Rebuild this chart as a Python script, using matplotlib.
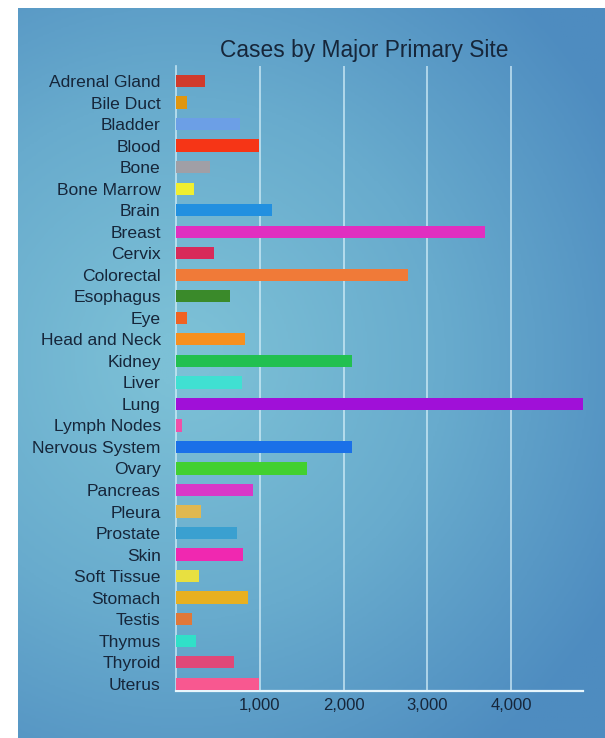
import numpy as np
import matplotlib
matplotlib.use("Agg")
import matplotlib.pyplot as plt
from matplotlib.colors import LinearSegmentedColormap

sites = ["Adrenal Gland", "Bile Duct", "Bladder", "Blood", "Bone", "Bone Marrow",
         "Brain", "Breast", "Cervix", "Colorectal", "Esophagus", "Eye",
         "Head and Neck", "Kidney", "Liver", "Lung", "Lymph Nodes",
         "Nervous System", "Ovary", "Pancreas", "Pleura", "Prostate", "Skin",
         "Soft Tissue", "Stomach", "Testis", "Thymus", "Thyroid", "Uterus"]
cases = [350, 130, 765, 995, 405, 220, 1145, 3685, 455, 2765, 650, 128,
         820, 2100, 785, 4857, 70, 2105, 1560, 920, 295, 730, 800,
         278, 860, 188, 240, 695, 995]
colors = ["#d03a2c", "#e0960f", "#6c9fe6", "#f63516", "#a09fa6", "#f0ef30",
          "#2290e0", "#e02fc0", "#d82a5a", "#f07a38", "#3a8a2a", "#f06222",
          "#f7901e", "#22c050", "#40e0d2", "#a010d8", "#f050a8",
          "#1a70e8", "#42d030", "#d838c8", "#e0b850", "#3aa0d0", "#f028b0",
          "#e8e040", "#e8b020", "#e07838", "#30e0c8", "#e04878", "#f85890"]
ticks = [1000, 2000, 3000, 4000]

W, H = 605, 738
fig = plt.figure(figsize=(W / 100, H / 100), dpi=100)
fig.patch.set_facecolor("white")

# gradient panel behind the chart
bg = fig.add_axes([18 / W, 0, 1 - 18 / W, (H - 8) / H], zorder=0)
yy, xx = np.mgrid[0:1:300j, 0:1:300j]
d = np.sqrt(((xx - 0.28) / 1.0) ** 2 + ((yy - 0.48) / 0.8) ** 2)
cmap = LinearSegmentedColormap.from_list("bg", ["#7cc0d6", "#68abcd", "#4e8cc0"])
bg.imshow(d, cmap=cmap, vmin=0.05, vmax=0.85, aspect="auto", extent=[0, 1, 0, 1])
bg.axis("off")

ax = fig.add_axes([176 / W, (H - 691) / H, (583 - 176) / W, (691 - 66) / H], zorder=1)
ax.patch.set_alpha(0)
y = np.arange(len(sites))
ax.barh(y, cases, height=0.57, color=colors, zorder=3)
ax.set_xlim(0, 4857)
ax.set_ylim(len(sites) - 1 + 0.34, -0.70)

for t in ticks:
    ax.axvline(t, color="#d6f0fa", lw=1.2, alpha=0.8, zorder=1)

ax.set_yticks(y)
ax.set_yticklabels(sites, fontsize=12.6, family="Liberation Sans", color="#16263a")
ax.set_xticks(ticks)
ax.set_xticklabels([f"{t:,}" for t in ticks], fontsize=12, family="Liberation Sans",
                   color="#16263a")
ax.tick_params(axis="y", length=0, pad=11)
ax.tick_params(axis="x", length=0, pad=5)

for s in ["top", "right"]:
    ax.spines[s].set_visible(False)
ax.spines["bottom"].set_color("#e8f6fc")
ax.spines["bottom"].set_linewidth(1.6)
ax.spines["left"].set_color("#d6f0fa")
ax.spines["left"].set_linewidth(1.2)
ax.spines["left"].set_alpha(0.8)

fig.text(364 / W, 1 - 50 / H, "Cases by Major Primary Site", ha="center", va="center",
         fontsize=16.4, family="Liberation Sans", color="#16263a")

fig.savefig("out.png", dpi=100)
